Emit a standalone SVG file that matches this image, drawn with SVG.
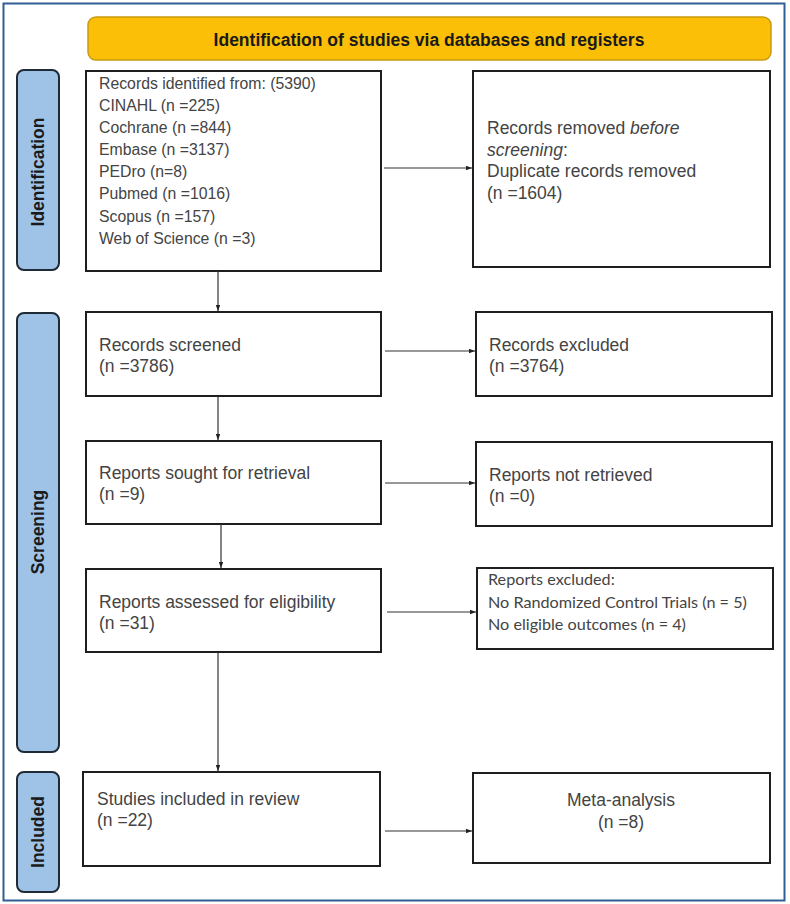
<svg xmlns="http://www.w3.org/2000/svg" width="790" height="904" viewBox="0 0 790 904">
<style>
.box{fill:#fff;stroke:#1e1e1e;stroke-width:2}
.lab{fill:#9fc3e7;stroke:#1e2a36;stroke-width:2}
.t{font-family:"Liberation Sans",Arial,sans-serif;font-size:17.5px;fill:#444}
.ts{font-family:"Liberation Sans",Arial,sans-serif;font-size:15.8px;fill:#444}
.tc{font-family:Lato,"Liberation Sans",sans-serif;font-size:16.2px;fill:#444}
.lt{font-family:"Liberation Sans",Arial,sans-serif;font-size:17.5px;font-weight:bold;fill:#1a1a1a}
.con{stroke:#333;stroke-width:1.2;fill:none;marker-end:url(#ah)}
</style>
<defs>
<marker id="ah" viewBox="0 0 8 6" refX="8" refY="3" markerWidth="6" markerHeight="4.5" markerUnits="userSpaceOnUse" orient="auto">
<path d="M0,0 L8,3 L0,6 z" fill="#222"/>
</marker>
</defs>
<rect x="0" y="0" width="790" height="904" fill="#fff"/>
<rect x="3.5" y="3.5" width="781" height="897" fill="none" stroke="#2f5f95" stroke-width="2"/>

<g id="header">
<rect x="88" y="17" width="683" height="43" rx="8" fill="#fbbf08" stroke="#c99a10" stroke-width="1.5"/>
<text class="lt" x="429" y="46" text-anchor="middle" font-size="17.8">Identification of studies via databases and registers</text>
</g>

<g id="label-identification">
<rect class="lab" x="17" y="70" width="42" height="200" rx="7"/>
<text class="lt" transform="translate(44,172) rotate(-90)" text-anchor="middle">Identification</text>
</g>
<g id="label-screening">
<rect class="lab" x="17" y="313" width="42" height="439" rx="7"/>
<text class="lt" transform="translate(44,532) rotate(-90)" text-anchor="middle">Screening</text>
</g>
<g id="label-included">
<rect class="lab" x="17" y="772" width="42" height="120" rx="7"/>
<text class="lt" transform="translate(44,832) rotate(-90)" text-anchor="middle">Included</text>
</g>

<g id="records-identified">
<rect class="box" x="86" y="71" width="295" height="200"/>
<text class="ts" x="99" y="89">Records identified from: (5390)</text>
<text class="ts" x="99" y="111">CINAHL (n =225)</text>
<text class="ts" x="99" y="133">Cochrane (n =844)</text>
<text class="ts" x="99" y="155">Embase (n =3137)</text>
<text class="ts" x="99" y="177">PEDro (n=8)</text>
<text class="ts" x="99" y="199">Pubmed (n =1016)</text>
<text class="ts" x="99" y="222">Scopus (n =157)</text>
<text class="ts" x="99" y="244">Web of Science (n =3)</text>
</g>

<g id="records-removed">
<rect class="box" x="473" y="71" width="297" height="196"/>
<text class="t" x="487" y="134">Records removed <tspan font-style="italic">before</tspan></text>
<text class="t" x="487" y="156"><tspan font-style="italic">screening</tspan>:</text>
<text class="t" x="487" y="177">Duplicate records removed</text>
<text class="t" x="487" y="199">(n =1604)</text>
</g>

<g id="records-screened">
<rect class="box" x="86" y="312" width="295" height="84"/>
<text class="t" x="99" y="351">Records screened</text>
<text class="t" x="99" y="372">(n =3786)</text>
</g>

<g id="records-excluded">
<rect class="box" x="476" y="312" width="296" height="84"/>
<text class="t" x="489" y="351">Records excluded</text>
<text class="t" x="489" y="372">(n =3764)</text>
</g>

<g id="reports-sought">
<rect class="box" x="86" y="441" width="295" height="83"/>
<text class="t" x="99" y="479">Reports sought for retrieval</text>
<text class="t" x="99" y="500">(n =9)</text>
</g>

<g id="reports-not-retrieved">
<rect class="box" x="476" y="442" width="296" height="84"/>
<text class="t" x="489" y="481">Reports not retrieved</text>
<text class="t" x="489" y="502">(n =0)</text>
</g>

<g id="reports-assessed">
<rect class="box" x="86" y="569" width="295" height="83"/>
<text class="t" x="99" y="608">Reports assessed for eligibility</text>
<text class="t" x="99" y="629">(n =31)</text>
</g>

<g id="reports-excluded">
<rect class="box" x="477" y="568" width="296" height="81"/>
<text class="tc" x="488" y="585">Reports excluded:</text>
<text class="tc" x="488" y="608">No Randomized Control Trials (n = 5)</text>
<text class="tc" x="488" y="630">No eligible outcomes (n = 4)</text>
</g>

<g id="studies-included">
<rect class="box" x="83" y="772" width="297" height="94"/>
<text class="t" x="97" y="805">Studies included in review</text>
<text class="t" x="97" y="826">(n =22)</text>
</g>

<g id="meta-analysis">
<rect class="box" x="473" y="773" width="297" height="90"/>
<text class="t" x="621" y="806" text-anchor="middle">Meta-analysis</text>
<text class="t" x="621" y="828" text-anchor="middle">(n =8)</text>
</g>

<g id="connectors">
<line class="con" x1="218" y1="271" x2="218" y2="311"/>
<line class="con" x1="384" y1="168" x2="472" y2="168"/>
<line class="con" x1="385" y1="351" x2="475" y2="351"/>
<line class="con" x1="218" y1="396" x2="218" y2="440"/>
<line class="con" x1="385" y1="483" x2="475" y2="483"/>
<line class="con" x1="221" y1="524" x2="221" y2="568"/>
<line class="con" x1="387" y1="612" x2="476" y2="612"/>
<line class="con" x1="218" y1="652" x2="218" y2="771"/>
<line class="con" x1="385" y1="831" x2="472" y2="831"/>
</g>
</svg>
